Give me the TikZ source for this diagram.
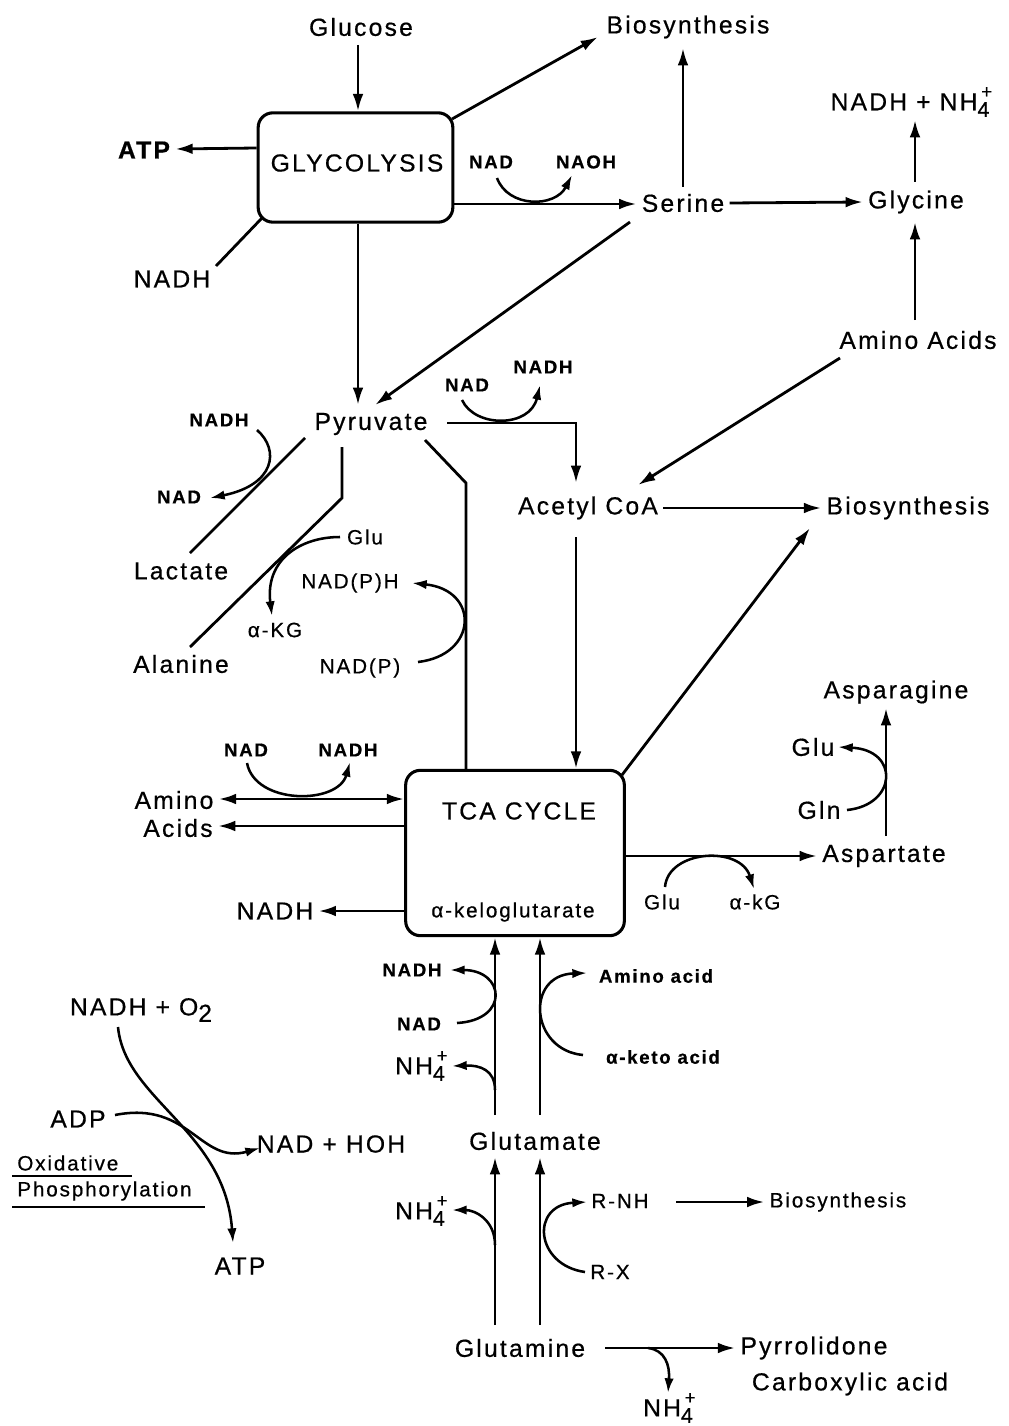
\documentclass[tikz,border=0pt]{standalone}
\usepackage{fontspec}
\setmainfont{Liberation Sans}[LetterSpace=9,FakeBold=0.6]
\usetikzlibrary{arrows.meta}
\newcommand\bigf{\fontsize{18.5}{22}\selectfont}
\newcommand\smf{\fontsize{15.5}{18}\selectfont}
\newcommand\smbf{\fontsize{14}{17}\selectfont\bfseries}
\newcommand\nhf{NH\rlap{\raisebox{0.95ex}{\kern0.15em\fontsize{14}{14}\selectfont +}}\raisebox{-0.5ex}{\fontsize{16}{16}\selectfont 4}}
\begin{document}
\begin{tikzpicture}[x=0.75pt,y=-0.75pt,
  lbl/.style={font=\bigf,inner sep=0pt,outer sep=4pt},
  sm/.style={font=\smf,inner sep=0pt,outer sep=4pt},
  smb/.style={font=\smbf,inner sep=0pt,outer sep=4pt},
  procbox/.style={draw,line width=2.3pt,rounded corners=11pt,inner sep=0pt},
  ln/.style={line width=2.1pt},
  arr/.style={ln,-{Latex[length=13pt,width=8pt]}},
  darr/.style={ln,{Latex[length=13pt,width=8pt]}-{Latex[length=13pt,width=8pt]}},
  curv/.style={line width=1.9pt,-{Latex[length=11pt,width=7pt]}}]
\useasboundingbox (0,0) rectangle (1008,1426);
\fill[white] (0,0) rectangle (1008,1426);
% boxes
\node[procbox,minimum width=146pt,minimum height=82pt] (glyc) at (355.5,167.5) {};
\node[lbl] (glyctxt) at (357,163) {GLYCOLYSIS};
\node[procbox,minimum width=164pt,minimum height=124pt] (tca) at (515,853) {};
\node[lbl] (tcatxt) at (519,811) {TCA CYCLE};
\node[sm] (akglut) at (513,912) {α-keloglutarate};
% labels
\node[lbl] (glucose) at (361,27) {Glucose};
\node[lbl,font=\bigf\bfseries] (atp) at (144,150) {ATP};
\node[lbl] (nadh1) at (172,279) {NADH};
\node[lbl] (bios1) at (688,27) {Biosynthesis};
\node[smb] (nad1) at (491,162) {NAD};
\node[smb] (naoh) at (586,162) {NAOH};
\node[lbl] (serine) at (683,203) {Serine};
\node[lbl] (glycine) at (916,202) {Glycine};
\node[lbl] (nadhnh) at (910,102) {NADH + \nhf};
\node[lbl] (aa1) at (918,340) {Amino Acids};
\node[lbl] (pyruvate) at (371,424) {Pyruvate};
\node[smb] (nad2) at (467,385) {NAD};
\node[smb] (nadh2) at (543,367) {NADH};
\node[lbl] (acetyl) at (588,508) {Acetyl CoA};
\node[lbl] (bios2) at (908,508) {Biosynthesis};
\node[smb] (nadh3) at (219,420) {NADH};
\node[smb] (nad3) at (179,497) {NAD};
\node[lbl] (lactate) at (181,571) {Lactate};
\node[sm] (glu1) at (365,537) {Glu};
\node[sm] (akg1) at (275,630) {α-KG};
\node[lbl] (alanine) at (181,664) {Alanine};
\node[sm] (nadph) at (350,583) {NAD(P)H};
\node[sm] (nadp) at (360,668) {NAD(P)};
\node[smb] (nad4) at (246,750) {NAD};
\node[smb] (nadh4) at (348,750) {NADH};
\node[lbl] (amino) at (174,800) {Amino};
\node[lbl] (acids) at (178,828) {Acids};
\node[lbl] (nadh5) at (275,911) {NADH};
\node[sm] (glu2) at (662,902) {Glu};
\node[sm] (akg2) at (755,902) {α-kG};
\node[lbl] (aspartate) at (884,856) {Aspartate};
\node[lbl] (asparagine) at (896,692) {Asparagine};
\node[lbl] (glu3) at (813,747) {Glu};
\node[lbl] (gln) at (819,810) {Gln};
\node[lbl] (glutamate) at (535,1141) {Glutamate};
\node[smb] (nadh6) at (412,970) {NADH};
\node[smb] (nad6) at (419,1024) {NAD};
\node[lbl] (nh4a) at (420,1066) {\nhf};
\node[smb] (aminoacid) at (656,976) {Amino acid};
\node[smb] (ketoacid) at (663,1057) {α-keto acid};
\node[lbl] (glutamine) at (520,1348) {Glutamine};
\node[lbl] (nh4b) at (420,1211) {\nhf};
\node[sm] (rnh) at (620,1201) {R-NH};
\node[sm] (rx) at (610,1272) {R-X};
\node[sm] (bios3) at (838,1202) {Biosynthesis};
\node[lbl] (pyrrol) at (814,1348) {Pyrrolidone};
\node[lbl] (carbox) at (850,1384) {Carboxylic acid};
\node[lbl] (nh4c) at (668,1408) {\nhf};
\node[lbl] (nadho2) at (141,1010) {NADH + O\raisebox{-0.5ex}{2}};
\node[lbl] (adp) at (78,1119) {ADP};
\node[lbl] (nadhoh) at (331,1144) {NAD + HOH};
\node[lbl] (atp2) at (240,1266) {ATP};
\node[sm,anchor=west] (oxid) at (12,1163) {Oxidative};
\node[sm,anchor=west] (phos) at (12,1191) {Phosphorylation};
\coordinate (u1a) at (12,1176); \coordinate (u1b) at (132,1176);
\coordinate (u2a) at (12,1207); \coordinate (u2b) at (205,1207);
\draw[line width=1.3pt] (u1a) -- (u1b);
\draw[line width=1.3pt] (u2a) -- (u2b);
% bend coordinates
\coordinate (pa1) at (576,423);
\coordinate (pt1) at (466,483);
\coordinate (pl1) at (342,498);
% main connectors
\draw[arr] (358,45) -- (glyc.north -| 358,0);
\draw[arr] (glyc.west |- 0,148) -- (atp.east |- 0,149);
\draw[ln] (262,218) -- (216,266);
\draw[arr] (452,119) -- (598,37);
\draw[arr] (glyc.east |- 0,204) -- (serine.west |- 0,204);
\draw[arr] (683,187) -- (683,48);
\draw[arr] (serine.east) -- (glycine.west);
\draw[arr] (915,182) -- (915,120);
\draw[arr] (915,320) -- (915,222);
\draw[arr] (glyc.south -| 358,0) -- (358,405);
\draw[arr] (630,222) -- (375,405);
\draw[arr] (447,423) -- (pa1) -- (576,483);
\draw[arr] (840,358) -- (638,485);
\draw[arr] (acetyl.east) -- (bios2.west);
\draw[arr] (576,537) -- (tca.north -| 576,0);
\draw[ln] (425,440) -- (pt1) -- (tca.north -| pt1);
\draw[ln] (305,438) -- (190,553);
\draw[ln] (342,447) -- (pl1) -- (190,647);
\draw[arr] (622,775) -- (810,528);
\draw[darr] (amino.east |- 0,799) -- (tca.west |- 0,799);
\draw[arr] (tca.west |- 0,826) -- (acids.east |- 0,826);
\draw[arr] (tca.west |- 0,911) -- (nadh5.east |- 0,911);
\draw[arr] (tca.east |- 0,856) -- (aspartate.west |- 0,856);
\draw[arr] (886,836) -- (886,708);
\draw[arr] (495,1115) -- (tca.south -| 495,0);
\draw[arr] (540,1115) -- (tca.south -| 540,0);
\draw[arr] (495,1325) -- (495,1157);
\draw[arr] (540,1325) -- (540,1157);
\draw[arr] (676,1202) -- (bios3.west);
\draw[arr] (605,1348) -- (pyrrol.west);
% side-reaction curves
\draw[curv] (497,178) .. controls (508,208) and (555,208) .. (572,175);
\draw[curv] (462,400) .. controls (475,428) and (530,428) .. (540,385);
\draw[curv] (257,430) .. controls (280,450) and (275,485) .. (210,498);
\draw[curv] (340,537) .. controls (300,537) and (265,560) .. (272,616);
\draw[curv] (418,662) .. controls (478,655) and (480,590) .. (412,583);
\draw[curv] (247,763) .. controls (255,805) and (338,805) .. (350,762);
\draw[curv] (665,887) .. controls (668,850) and (740,845) .. (754,889);
\draw[curv] (847,810) .. controls (897,805) and (900,750) .. (838,747);
\draw[curv] (457,1023) .. controls (510,1020) and (505,970) .. (450,970);
\draw[curv] (495,1090) .. controls (495,1070) and (480,1065) .. (452,1066);
\draw[curv] (583,1055) .. controls (530,1050) and (525,975) .. (587,973);
\draw[curv] (495,1245) .. controls (495,1220) and (475,1210) .. (452,1210);
\draw[curv] (585,1272) .. controls (535,1265) and (530,1205) .. (587,1202);
\draw[curv] (648,1348) .. controls (665,1350) and (670,1365) .. (668,1393);
\draw[curv] (118,1027) .. controls (125,1100) and (225,1130) .. (233,1243);
\draw[curv] (115,1115) .. controls (190,1100) and (200,1165) .. (260,1148);
\end{tikzpicture}
\end{document}
